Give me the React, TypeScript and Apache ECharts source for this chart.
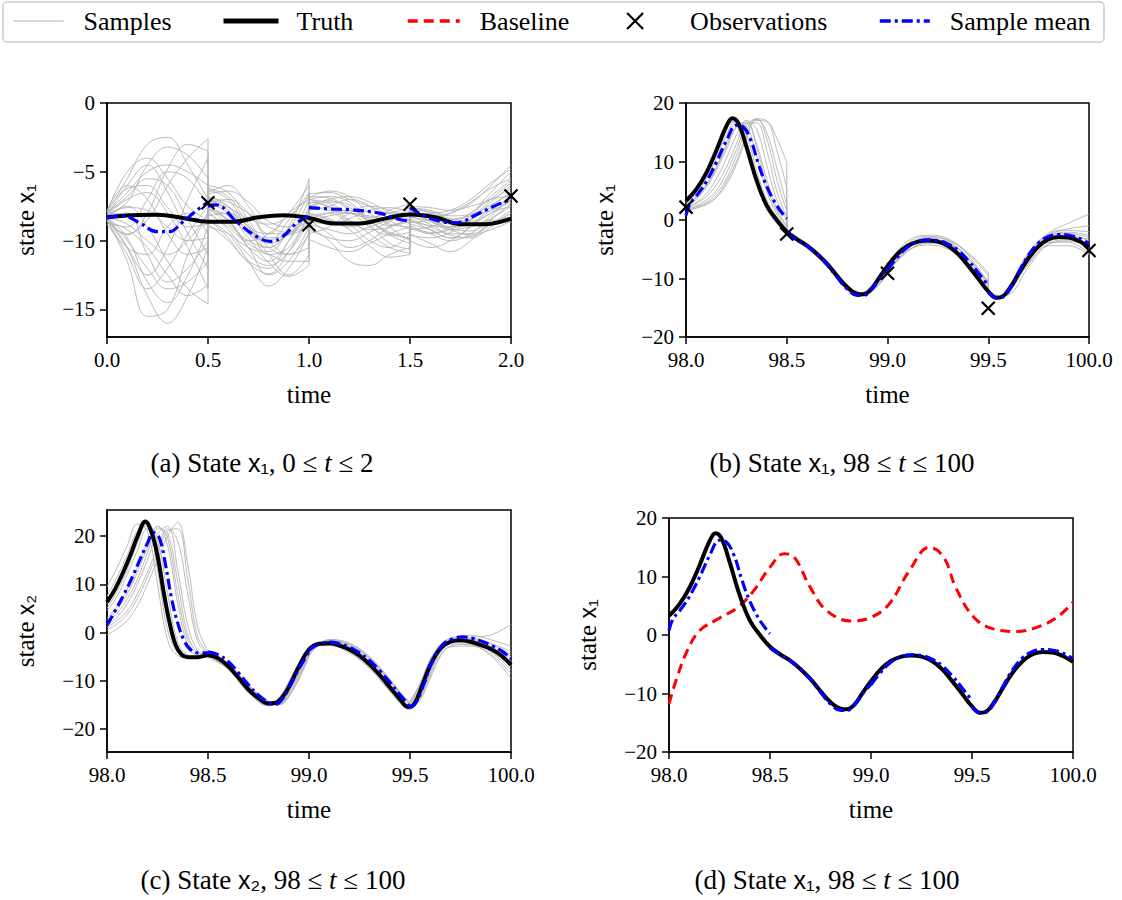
import React, { useEffect, useRef } from "react";
import * as echarts from "echarts";

const FONT = "Liberation Serif";

// ---------- Panel (a): state x1, 0 <= t <= 2 ----------
const truthA_t = [0, 0.125, 0.25, 0.375, 0.5, 0.625, 0.75, 0.875, 1.0, 1.125, 1.25, 1.375, 1.5, 1.625, 1.75, 1.875, 2.0];
const truthA = [-8.3, -8.15, -8.12, -8.35, -8.62, -8.62, -8.3, -8.15, -8.35, -8.75, -8.75, -8.4, -8.1, -8.3, -8.8, -8.8, -8.4];
const meanA_t = [0, 0.08, 0.16, 0.25, 0.31, 0.37, 0.44, 0.5, 0.5, 0.54, 0.64, 0.74, 0.81, 0.87, 0.94, 1.0, 1.0, 1.1, 1.2, 1.35, 1.42, 1.5, 1.5, 1.57, 1.67, 1.73, 1.83, 1.93, 2.0];
const meanA = [-8.35, -8.2, -8.7, -9.35, -9.35, -8.7, -7.85, -7.2, -7.5, -7.4, -8.6, -9.7, -10.05, -9.7, -8.7, -8.2, -7.6, -7.7, -7.75, -8.0, -8.35, -8.6, -7.6, -8.2, -8.65, -8.7, -8.1, -7.4, -7.0];
const obsA_t = [0.5, 1.0, 1.5, 2.0];
const obsA = [-7.25, -8.85, -7.35, -6.75];
const sampGridA = [0, 0.1, 0.2, 0.3, 0.4, 0.5];
const sampSegA = [0, 0.5, 1.0, 1.5];
const samplesA = [
  [-8.0, -5.5, -3.0, -2.5, -4.5, -7.0, -7.0, -7.5, -9.0, -11.0, -10.5, -8.0, -7.0, -6.8, -7.2, -8.5, -9.5, -9.8, -7.6, -8.0, -8.5, -8.0, -6.5, -5.0],
  [-8.5, -11.5, -15.5, -15.0, -11.0, -8.0, -7.8, -8.5, -10.5, -12.5, -11.5, -9.0, -8.5, -9.5, -10.5, -10.0, -9.0, -8.5, -8.5, -9.2, -9.8, -9.0, -7.5, -6.5],
  [-8.2, -6.0, -4.5, -6.5, -9.5, -12.0, -6.5, -6.0, -7.5, -9.5, -9.5, -7.5, -6.6, -6.5, -7.0, -7.5, -8.0, -8.0, -7.8, -8.2, -8.0, -7.3, -6.0, -4.5],
  [-8.4, -10.5, -12.5, -10.5, -7.0, -4.0, -8.5, -9.5, -11.5, -13.3, -12.0, -9.5, -9.0, -10.0, -11.5, -11.8, -11.0, -10.5, -9.5, -10.2, -10.8, -10.0, -8.5, -7.5],
  [-8.1, -7.0, -6.5, -8.0, -10.5, -13.5, -7.2, -8.0, -9.5, -10.0, -8.5, -6.5, -7.5, -7.0, -6.8, -7.2, -8.0, -8.8, -8.0, -8.5, -9.0, -8.8, -8.0, -7.0],
  [-8.6, -9.5, -8.5, -6.0, -4.0, -2.6, -6.0, -6.5, -8.5, -10.5, -11.0, -10.5, -8.0, -8.5, -9.0, -8.5, -7.8, -7.3, -7.5, -7.6, -7.8, -7.5, -7.0, -6.2],
  [-8.3, -9.8, -13.0, -14.5, -12.5, -9.0, -8.0, -9.0, -10.0, -9.5, -8.0, -6.0, -7.2, -7.5, -8.5, -9.5, -10.5, -10.9, -9.0, -9.5, -9.0, -8.0, -7.0, -6.8],
  [-7.9, -5.0, -4.0, -5.5, -7.5, -8.5, -7.5, -8.5, -10.5, -11.5, -10.0, -7.0, -9.5, -9.0, -8.0, -7.5, -7.8, -8.5, -8.2, -8.8, -9.5, -9.5, -8.8, -8.0],
  [-8.8, -10.5, -11.0, -9.0, -8.0, -9.5, -9.0, -9.5, -10.5, -11.0, -11.5, -11.5, -7.8, -7.5, -7.0, -7.5, -9.0, -10.0, -10.0, -10.5, -10.0, -9.0, -8.0, -7.5],
  [-8.2, -7.5, -9.0, -11.5, -13.5, -14.6, -7.3, -7.0, -8.0, -10.0, -11.0, -9.5, -8.2, -8.0, -8.8, -10.0, -10.5, -9.5, -8.7, -8.5, -8.0, -7.2, -6.2, -5.5],
  [-8.0, -6.5, -5.0, -4.5, -5.0, -6.0, -6.8, -7.5, -9.5, -10.5, -9.0, -5.5, -6.9, -6.4, -6.8, -8.0, -8.8, -9.0, -7.9, -8.6, -9.2, -9.0, -8.5, -8.7],
  [-8.5, -11.0, -13.5, -12.0, -9.5, -7.5, -8.2, -8.0, -9.0, -11.0, -12.5, -11.0, -8.8, -9.2, -9.5, -9.0, -8.5, -8.2, -9.2, -9.0, -8.5, -8.2, -7.8, -7.2],
  [-8.3, -8.8, -10.0, -11.0, -10.0, -8.0, -7.6, -8.8, -10.0, -10.5, -9.5, -8.5, -7.4, -7.8, -8.0, -8.2, -8.6, -9.2, -8.0, -8.3, -8.8, -8.5, -7.2, -6.0],
  [-7.8, -6.0, -7.0, -9.5, -11.0, -10.5, -6.3, -7.0, -9.0, -9.5, -8.0, -7.0, -9.9, -10.5, -10.8, -10.2, -9.5, -9.0, -8.9, -9.5, -10.0, -9.5, -8.2, -7.0],
  [-8.7, -9.0, -7.0, -5.0, -5.5, -7.5, -8.8, -10.0, -11.5, -12.0, -10.0, -8.0, -7.0, -7.3, -8.0, -8.3, -8.0, -7.6, -7.7, -7.9, -8.4, -8.6, -7.8, -6.8],
  [-8.1, -8.0, -11.0, -13.0, -12.0, -10.0, -7.0, -7.8, -9.2, -9.8, -9.6, -9.0, -8.4, -8.0, -7.8, -8.6, -9.6, -10.2, -8.4, -9.0, -9.6, -9.8, -9.0, -8.0],
  [-8.0, -6.8, -5.5, -6.0, -8.5, -11.0, -6.2, -6.8, -8.8, -10.2, -9.5, -7.8, -7.6, -7.2, -7.4, -8.8, -10.2, -10.6, -8.6, -8.9, -9.0, -8.4, -7.0, -5.8],
  [-8.4, -10.0, -12.0, -13.5, -13.0, -11.5, -7.9, -9.2, -11.0, -11.8, -10.8, -8.6, -8.6, -8.8, -8.4, -7.8, -7.6, -7.9, -7.9, -8.4, -9.1, -9.3, -8.4, -7.3],
  [-8.2, -7.2, -4.5, -3.2, -3.8, -5.5, -6.6, -6.4, -7.2, -8.6, -9.0, -8.2, -6.8, -6.9, -7.8, -9.0, -9.6, -9.4, -8.1, -8.0, -7.8, -7.0, -5.8, -4.8],
  [-8.6, -9.2, -10.5, -12.5, -14.0, -13.2, -8.4, -9.8, -11.6, -12.4, -10.8, -8.2, -9.2, -9.8, -10.0, -9.4, -8.6, -8.0, -9.6, -9.8, -9.4, -8.5, -7.6, -7.0],
  [-7.9, -6.2, -6.0, -7.6, -9.0, -8.8, -7.1, -7.6, -8.4, -8.8, -8.2, -6.8, -7.0, -7.6, -8.6, -9.2, -9.0, -8.4, -7.6, -7.8, -8.2, -8.1, -7.4, -6.6],
  [-8.3, -10.5, -14.0, -16.0, -14.0, -10.5, -7.7, -8.2, -9.8, -11.6, -12.6, -11.8, -8.0, -8.4, -9.2, -10.4, -11.2, -11.0, -8.3, -8.6, -9.2, -9.6, -9.2, -8.6],
  [-8.1, -7.6, -7.8, -9.0, -10.0, -9.8, -6.9, -7.2, -8.0, -9.0, -9.4, -8.8, -7.3, -7.1, -7.6, -8.4, -8.9, -8.6, -8.8, -9.2, -9.8, -9.7, -8.8, -7.8],
  [-8.5, -9.6, -8.0, -4.8, -3.0, -3.5, -7.4, -8.6, -10.2, -10.8, -9.2, -6.6, -8.6, -8.2, -8.0, -8.6, -9.4, -9.9, -9.1, -9.4, -9.2, -8.2, -6.8, -5.6],
];

// ---------- Panels (b) and (d): state x1, 98 <= t <= 100 ----------
const truthB_t = [98.0, 98.05, 98.1, 98.15, 98.2, 98.23, 98.26, 98.3, 98.35, 98.4, 98.45, 98.5, 98.55, 98.6, 98.65, 98.7, 98.75, 98.8, 98.85, 98.88, 98.92, 98.96, 99.0, 99.05, 99.1, 99.15, 99.2, 99.25, 99.3, 99.35, 99.4, 99.45, 99.5, 99.54, 99.57, 99.61, 99.65, 99.7, 99.75, 99.8, 99.85, 99.9, 99.95, 100.0];
const truthB = [3.3, 5.2, 8.0, 11.8, 16.0, 17.4, 16.5, 12.5, 6.8, 2.5, 0.0, -2.0, -3.3, -4.4, -5.8, -7.5, -9.6, -11.5, -12.6, -12.7, -11.8, -9.8, -7.9, -5.8, -4.4, -3.7, -3.5, -3.7, -4.4, -5.8, -7.8, -10.0, -12.2, -13.3, -13.1, -11.5, -9.2, -6.5, -4.5, -3.3, -2.9, -3.0, -3.6, -4.6];
const meanB_t = [98.0, 98.02, 98.05, 98.1, 98.15, 98.2, 98.25, 98.28, 98.32, 98.36, 98.4, 98.45, 98.5, 98.5, 98.55, 98.6, 98.65, 98.7, 98.75, 98.8, 98.85, 98.88, 98.92, 98.96, 99.0, 99.0, 99.05, 99.1, 99.15, 99.2, 99.25, 99.3, 99.35, 99.4, 99.45, 99.5, 99.5, 99.54, 99.57, 99.61, 99.65, 99.7, 99.75, 99.8, 99.85, 99.9, 99.95, 100.0];
const meanB = [0.8, 2.8, 4.0, 6.5, 9.8, 13.5, 16.2, 16.0, 13.8, 9.5, 5.8, 2.5, 0.2, -2.2, -3.4, -4.4, -5.8, -7.6, -9.8, -11.8, -12.9, -12.9, -11.9, -10.0, -8.4, -8.5, -6.3, -4.6, -3.7, -3.4, -3.5, -4.1, -5.2, -6.9, -9.0, -11.2, -12.3, -13.3, -13.2, -11.6, -9.0, -6.0, -3.9, -2.8, -2.5, -2.6, -3.1, -4.0];
const obsB_t = [98.0, 98.5, 99.0, 99.5, 100.0];
const obsB = [2.2, -2.4, -9.1, -15.1, -5.2];
const baseD_t = [98.0, 98.04, 98.09, 98.15, 98.24, 98.34, 98.42, 98.5, 98.57, 98.62, 98.7, 98.78, 98.9, 99.0, 99.09, 99.19, 99.29, 99.36, 99.42, 99.51, 99.61, 99.72, 99.82, 99.92, 100.0];
const baseD = [-11.8, -7.2, -2.7, 0.7, 2.7, 4.7, 7.6, 11.6, 13.9, 13.3, 8.1, 4.2, 2.4, 3.0, 5.3, 11.0, 15.0, 13.3, 8.1, 3.0, 1.0, 0.6, 1.3, 3.0, 5.6];
const sampTimesB = [98.0, 98.05, 98.1, 98.15, 98.2, 98.25, 98.3, 98.35, 98.4, 98.45, 98.5, 98.5, 98.6, 98.7, 98.8, 98.86, 98.93, 99.0, 99.0, 99.1, 99.2, 99.3, 99.4, 99.5, 99.5, 99.55, 99.6, 99.7, 99.8, 99.9, 100.0];
const samplesB = [
  [3.0, 5.0, 8.0, 12.0, 16.0, 16.8, 12.5, 6.5, 2.0, -0.5, -2.0, -2.0, -4.2, -7.3, -11.4, -12.6, -11.0, -7.6, -8.0, -4.0, -2.8, -3.5, -6.5, -11.0, -12.3, -13.4, -12.3, -6.0, -2.6, -1.8, -2.0],
  [2.5, 4.0, 6.0, 9.0, 13.0, 16.5, 16.0, 11.0, 5.0, 1.0, -1.5, -2.3, -4.6, -7.8, -11.8, -12.9, -11.6, -8.3, -8.5, -4.8, -3.8, -4.8, -8.2, -12.5, -12.6, -13.2, -11.5, -5.5, -2.2, -0.5, 1.0],
  [2.0, 3.0, 4.5, 7.0, 10.5, 14.5, 17.0, 15.5, 9.5, 3.5, 0.0, -1.8, -4.0, -7.0, -11.0, -12.4, -11.8, -9.0, -8.8, -5.0, -3.4, -3.6, -5.8, -9.5, -11.9, -13.0, -12.8, -8.0, -4.2, -3.6, -4.5],
  [1.8, 2.3, 3.0, 4.5, 7.0, 11.0, 15.5, 17.2, 15.0, 9.0, 2.5, -2.5, -4.8, -8.0, -12.0, -13.0, -11.2, -7.5, -7.5, -4.2, -3.6, -4.6, -7.8, -12.2, -12.8, -13.5, -12.0, -6.8, -3.4, -3.2, -5.0],
  [2.8, 4.5, 7.0, 10.5, 14.5, 17.0, 14.5, 8.5, 3.5, 0.5, -1.8, -2.1, -4.4, -7.6, -11.6, -12.8, -12.0, -9.2, -9.0, -5.4, -4.0, -4.2, -6.5, -10.5, -12.1, -13.2, -12.5, -7.2, -3.8, -3.8, -5.8],
  [1.5, 2.0, 2.6, 3.8, 6.0, 9.5, 14.0, 17.3, 17.0, 14.0, 9.8, -1.9, -4.3, -7.4, -11.2, -12.5, -10.8, -7.2, -7.4, -3.6, -2.6, -3.2, -6.0, -10.8, -12.4, -13.1, -11.8, -5.8, -2.4, -1.5, -1.0],
  [2.2, 3.5, 5.5, 8.5, 12.0, 15.8, 16.5, 13.0, 7.0, 2.0, -1.0, -2.2, -4.5, -7.7, -11.7, -12.8, -11.4, -8.0, -8.2, -4.5, -3.3, -4.0, -7.2, -11.8, -12.5, -13.4, -12.2, -6.6, -3.1, -2.6, -3.6],
  [3.2, 5.3, 8.5, 12.5, 16.3, 17.0, 13.5, 7.5, 2.5, 0.0, -2.0, -2.4, -4.7, -7.9, -11.9, -13.0, -11.9, -8.6, -8.7, -5.2, -4.3, -5.0, -8.0, -12.6, -12.2, -13.3, -12.6, -7.0, -3.3, -2.8, -3.3],
  [1.6, 2.1, 2.8, 4.0, 6.5, 10.0, 14.5, 17.0, 16.8, 12.0, 5.5, -2.0, -4.1, -7.1, -11.1, -12.6, -11.5, -8.4, -8.3, -4.6, -3.0, -3.4, -5.6, -9.0, -12.0, -12.9, -12.2, -7.4, -4.0, -3.4, -4.0],
  [2.4, 3.8, 5.8, 8.8, 12.5, 16.0, 16.8, 12.5, 6.0, 1.5, -1.2, -2.3, -4.5, -7.6, -11.5, -12.7, -11.1, -7.7, -7.8, -4.3, -3.7, -4.7, -8.0, -12.4, -12.7, -13.6, -12.1, -6.2, -2.8, -2.1, -2.6],
  [2.0, 2.8, 4.0, 6.0, 9.0, 13.0, 16.6, 16.6, 12.0, 5.0, 0.5, -2.1, -4.4, -7.5, -11.3, -12.6, -11.7, -8.8, -8.9, -5.3, -3.8, -4.0, -6.8, -11.3, -12.3, -13.1, -12.4, -7.5, -4.4, -4.4, -6.0],
  [1.7, 2.4, 3.4, 5.0, 8.0, 12.0, 16.2, 17.3, 14.0, 7.0, 1.5, -2.2, -4.6, -7.8, -11.8, -12.9, -11.3, -7.9, -8.0, -4.4, -3.5, -4.4, -7.6, -12.0, -12.6, -13.5, -12.0, -6.4, -2.9, -2.3, -3.0],
];

// ---------- Panel (c): state x2, 98 <= t <= 100 ----------
const truthC_t = [98.0, 98.04, 98.08, 98.12, 98.15, 98.19, 98.22, 98.25, 98.28, 98.31, 98.34, 98.37, 98.4, 98.45, 98.5, 98.55, 98.6, 98.65, 98.7, 98.75, 98.8, 98.83, 98.87, 98.91, 98.95, 99.0, 99.05, 99.1, 99.15, 99.2, 99.25, 99.3, 99.35, 99.4, 99.45, 99.49, 99.52, 99.56, 99.6, 99.65, 99.7, 99.75, 99.8, 99.85, 99.9, 99.95, 100.0];
const truthC = [6.3, 9.0, 12.5, 16.5, 19.8, 23.0, 20.8, 15.9, 8.5, 2.0, -2.6, -4.6, -5.1, -5.1, -4.7, -5.3, -7.0, -9.3, -11.8, -13.6, -14.7, -14.6, -13.3, -10.5, -7.0, -3.5, -2.3, -2.2, -2.7, -3.5, -4.8, -6.6, -8.8, -11.3, -13.8, -15.4, -14.9, -11.0, -6.8, -3.3, -1.9, -1.6, -1.9, -2.6, -3.4, -4.7, -6.7];
const meanC_t = [98.0, 98.04, 98.08, 98.12, 98.16, 98.2, 98.23, 98.26, 98.29, 98.32, 98.35, 98.38, 98.41, 98.45, 98.5, 98.5, 98.55, 98.6, 98.65, 98.7, 98.75, 98.8, 98.83, 98.86, 98.9, 98.95, 99.0, 99.0, 99.05, 99.1, 99.15, 99.2, 99.25, 99.3, 99.35, 99.4, 99.45, 99.5, 99.5, 99.53, 99.57, 99.61, 99.66, 99.71, 99.76, 99.81, 99.86, 99.91, 99.96, 100.0];
const meanC = [1.5, 4.5, 7.6, 11.0, 14.8, 18.5, 20.7, 19.5, 14.0, 7.0, 2.0, -1.5, -3.4, -4.2, -4.2, -4.0, -4.6, -6.0, -8.3, -10.8, -13.0, -14.5, -14.9, -14.2, -11.5, -7.5, -4.0, -3.6, -2.4, -2.0, -2.3, -3.0, -4.2, -5.8, -7.9, -10.3, -12.9, -15.3, -15.6, -14.5, -10.5, -6.0, -2.6, -1.3, -0.9, -1.2, -1.9, -2.8, -4.0, -5.5];
const sampTimesC = [98.0, 98.05, 98.1, 98.15, 98.2, 98.25, 98.3, 98.35, 98.4, 98.45, 98.5, 98.5, 98.6, 98.7, 98.8, 98.85, 98.92, 99.0, 99.0, 99.1, 99.2, 99.3, 99.4, 99.47, 99.5, 99.5, 99.55, 99.6, 99.65, 99.7, 99.8, 99.9, 100.0];
const samplesC = [
  [6.0, 10.0, 15.0, 20.5, 22.5, 16.0, 3.0, -3.5, -5.0, -5.0, -4.6, -4.6, -6.8, -11.5, -14.6, -14.5, -10.5, -3.8, -3.6, -2.0, -3.0, -6.0, -10.8, -14.5, -15.3, -15.3, -12.5, -7.5, -3.6, -1.8, -1.4, -2.5, -4.5],
  [3.0, 5.5, 9.0, 13.5, 18.5, 22.0, 18.0, 6.0, -2.5, -4.8, -4.8, -4.8, -7.3, -12.2, -15.0, -14.0, -9.2, -3.2, -3.2, -2.4, -3.8, -7.0, -11.8, -15.0, -15.8, -15.8, -13.5, -8.5, -4.2, -2.2, -1.0, -0.5, 1.7],
  [1.0, 2.5, 4.5, 8.0, 12.5, 17.5, 21.5, 19.0, 8.0, -2.0, -4.5, -4.5, -6.5, -11.0, -14.3, -14.8, -11.5, -4.5, -4.0, -1.6, -2.5, -5.4, -10.0, -13.6, -14.6, -14.6, -11.0, -6.0, -2.8, -1.5, -1.8, -3.4, -6.5],
  [9.5, 13.5, 18.0, 22.5, 21.0, 10.0, -1.5, -4.8, -5.2, -5.0, -4.5, -5.0, -7.5, -12.4, -15.2, -13.8, -8.8, -3.0, -3.0, -2.6, -4.0, -7.2, -12.0, -15.3, -15.9, -15.9, -13.8, -9.0, -4.8, -2.8, -2.4, -4.0, -7.8],
  [2.0, 4.0, 7.0, 11.0, 16.5, 21.5, 20.5, 10.5, -0.5, -4.2, -4.7, -4.7, -6.9, -11.6, -14.8, -14.6, -11.0, -4.2, -4.2, -1.8, -2.6, -5.6, -10.3, -13.9, -14.9, -14.9, -11.5, -6.4, -3.0, -1.7, -1.9, -3.8, -7.0],
  [-0.5, 0.8, 2.5, 5.5, 10.0, 15.0, 20.0, 22.8, 14.0, 1.0, -3.8, -4.4, -6.3, -10.8, -14.2, -15.0, -12.0, -5.0, -4.8, -1.5, -2.2, -5.0, -9.6, -13.2, -14.3, -14.3, -10.5, -5.5, -2.5, -1.2, -0.6, -1.5, -2.8],
  [4.5, 7.5, 12.0, 17.0, 21.5, 19.0, 8.0, -2.0, -4.6, -5.0, -4.6, -4.9, -7.2, -12.0, -15.0, -14.2, -9.6, -3.4, -3.4, -2.3, -3.6, -6.8, -11.5, -14.8, -15.6, -15.6, -13.0, -8.0, -4.0, -2.4, -2.6, -4.8, -9.5],
  [1.5, 3.2, 6.0, 10.0, 15.0, 20.5, 22.0, 13.0, 1.5, -3.8, -4.8, -4.6, -6.7, -11.3, -14.5, -14.7, -10.8, -4.0, -3.9, -1.9, -2.9, -6.0, -10.8, -14.4, -15.2, -15.2, -12.2, -7.2, -3.5, -1.9, -1.7, -3.0, -5.5],
  [5.0, 8.5, 13.0, 18.5, 22.8, 18.0, 5.0, -3.0, -5.0, -5.0, -4.5, -5.1, -7.6, -12.5, -15.1, -13.6, -8.6, -2.8, -2.9, -2.7, -4.2, -7.5, -12.2, -15.5, -16.0, -16.0, -14.0, -9.5, -5.0, -3.0, -2.8, -4.5, -8.5],
  [0.5, 1.8, 3.8, 7.0, 11.5, 16.5, 21.0, 21.5, 11.0, -1.0, -4.2, -4.5, -6.6, -11.2, -14.4, -14.9, -11.8, -4.8, -4.6, -1.4, -2.3, -5.2, -9.8, -13.4, -14.4, -14.4, -10.8, -5.8, -2.6, -1.3, -1.1, -2.2, -4.0],
  [2.5, 4.8, 8.0, 12.5, 17.5, 22.0, 19.5, 8.0, -1.5, -4.6, -4.9, -4.8, -7.1, -11.9, -14.9, -14.4, -10.0, -3.6, -3.6, -2.1, -3.2, -6.3, -11.0, -14.6, -15.4, -15.4, -12.6, -7.6, -3.8, -2.1, -2.2, -3.6, -6.0],
  [7.5, 11.5, 16.0, 21.0, 22.0, 13.0, 0.5, -4.2, -5.2, -5.0, -4.6, -4.7, -7.0, -11.7, -14.7, -14.3, -10.2, -3.7, -3.8, -2.0, -3.1, -6.2, -10.9, -14.5, -15.3, -15.3, -12.3, -7.3, -3.6, -2.0, -1.6, -2.9, -5.0],
];

// ---------- helpers ----------
const pairs = (ts: number[], ys: number[]) => ts.map((t, i) => [t, ys[i]]);
// split a trajectory at the observation times (repeated t values)
function splitAtJumps(d: number[][]) {
  const segs: number[][][] = [[]];
  d.forEach((p, i) => {
    if (i > 0 && p[0] === d[i - 1][0]) segs.push([]);
    segs[segs.length - 1].push(p);
  });
  return segs;
}
// vertical jump connectors, broken by nulls
function jumpLinks(d: number[][]) {
  const out: (number | null)[][] = [];
  d.forEach((p, i) => {
    if (i > 0 && p[0] === d[i - 1][0]) out.push(d[i - 1], p, [p[0], null]);
  });
  return out;
}
const fmtNum = (v: number) => (v < 0 ? "\u2212" + Math.abs(v) : String(v));
const X_PATH = "path://M0,0L10,10M0,10L10,0";

const GRIDS = [
  { left: 107, top: 103, width: 404, height: 234 },
  { left: 686, top: 103, width: 403, height: 234 },
  { left: 107, top: 510, width: 404, height: 242 },
  { left: 669, top: 518, width: 404, height: 234 },
];

function xAxis(g: number, min: number, max: number) {
  return {
    type: "value",
    gridIndex: g,
    min,
    max,
    interval: 0.5,
    name: "time",
    nameLocation: "middle",
    nameGap: 45,
    nameTextStyle: { fontFamily: FONT, fontSize: 25, color: "#000" },
    axisLine: { show: true, onZero: false, lineStyle: { color: "#000", width: 1.5 } },
    axisTick: { show: true, inside: false, length: 7, lineStyle: { color: "#000", width: 1.5 } },
    axisLabel: { fontFamily: FONT, fontSize: 21, color: "#000", margin: 12, formatter: (v: number) => v.toFixed(1) },
    splitLine: { show: false },
  };
}

function yAxis(g: number, min: number, max: number, ticks: number[], sub: string) {
  return {
    type: "value",
    gridIndex: g,
    min,
    max,
    name: "state {s|x" + sub + "}",
    nameLocation: "middle",
    nameGap: 69,
    nameTextStyle: {
      fontFamily: FONT,
      fontSize: 25,
      color: "#000",
      rich: { s: { fontFamily: "Liberation Sans", fontSize: 23, color: "#000" } },
    },
    axisLine: { show: true, onZero: false, lineStyle: { color: "#000", width: 1.5 } },
    axisTick: { show: true, inside: false, length: 7, customValues: ticks, lineStyle: { color: "#000", width: 1.5 } },
    axisLabel: { fontFamily: FONT, fontSize: 21, color: "#000", margin: 12, customValues: ticks, formatter: fmtNum },
    splitLine: { show: false },
  };
}

const GRAY = "#b3b3b3";
const lineSeries = (name: string, g: number, data: any[], color: string, width: number, type: any, z: number, smooth: number | boolean = 0.4) => ({
  type: "line",
  name,
  xAxisIndex: g,
  yAxisIndex: g,
  data,
  smooth,
  symbol: "none",
  silent: true,
  connectNulls: false,
  itemStyle: { color },
  lineStyle: { color, width, type },
  z,
});

// one series per continuous piece of each sample, plus the vertical jumps
function sampleSeries(g: number, trajectories: number[][][]) {
  const out: any[] = [];
  const links: any[] = [];
  trajectories.forEach((d) => {
    splitAtJumps(d).forEach((seg) => out.push(lineSeries("Samples", g, seg, GRAY, 0.9, "solid", 1)));
    links.push(...jumpLinks(d));
  });
  out.push(lineSeries("Samples", g, links, GRAY, 0.9, "solid", 1, false));
  return out;
}
const meanSeries = (g: number, d: number[][]) =>
  splitAtJumps(d).map((seg) => lineSeries("Sample mean", g, seg, "#0000ff", 3.2, [11, 4, 3, 4], 4));
const obsScatter = (g: number, data: number[][]) => ({
  type: "scatter",
  name: "Observations",
  xAxisIndex: g,
  yAxisIndex: g,
  data,
  symbol: X_PATH,
  symbolSize: 13,
  silent: true,
  clip: false,
  itemStyle: { color: "rgba(0,0,0,0)", borderColor: "#000", borderWidth: 2.2, opacity: 1 },
  z: 5,
});

const trajA = samplesA.map((vals) => {
  const d: number[][] = [];
  sampSegA.forEach((s, k) => sampGridA.forEach((g, i) => d.push([s + g, vals[k * 6 + i]])));
  return d;
});

const legendBase = (name: string, left: number, itemWidth: number, textPad: number, itemHeight: number) => ({
  show: true,
  data: [{ name }],
  left,
  top: 8,
  padding: 0,
  itemWidth,
  itemHeight,
  selectedMode: false,
  textStyle: { fontFamily: FONT, fontSize: 26, color: "#000", padding: [0, 0, 0, textPad] },
  z: 10,
});
const legendLine = (name: string, left: number, itemWidth: number, textPad: number, width: number) => ({
  ...legendBase(name, left, itemWidth, textPad, 14),
  itemStyle: { opacity: 0 },
  lineStyle: { width },
});

const caption = (x: number, y: number, label: string, sub: string, range: string) => ({
  type: "text",
  x,
  y,
  style: {
    text: `(${label}) State {s|x${sub}}, ${range}`,
    fontFamily: FONT,
    fontSize: 27,
    fill: "#000",
    align: "center",
    verticalAlign: "middle",
    rich: {
      s: { fontFamily: "Liberation Sans", fontSize: 25, fill: "#000" },
      i: { fontStyle: "italic", fontFamily: FONT, fontSize: 27, fill: "#000" },
    },
  },
});

export default function App() {
  const ref = useRef<HTMLDivElement>(null);
  useEffect(() => {
    if (!ref.current) return;
    const chart = echarts.init(ref.current, null, { renderer: "svg" });
    const option = {
      animation: false,
      backgroundColor: "#fff",
      textStyle: { fontFamily: FONT },
      grid: GRIDS.map((g) => ({ ...g, show: true, borderColor: "#000", borderWidth: 1.5, backgroundColor: "transparent", containLabel: false })),
      xAxis: [xAxis(0, 0, 2), xAxis(1, 98, 100), xAxis(2, 98, 100), xAxis(3, 98, 100)],
      yAxis: [
        yAxis(0, -17, 0, [-15, -10, -5, 0], "\u2081"),
        yAxis(1, -20, 20, [-20, -10, 0, 10, 20], "\u2081"),
        yAxis(2, -24.75, 25.4, [-20, -10, 0, 10, 20], "\u2082"),
        yAxis(3, -20, 20, [-20, -10, 0, 10, 20], "\u2081"),
      ],
      legend: [
        legendLine("Samples", 13, 50, 15, 1.2),
        legendLine("Truth", 221, 55, 13, 5),
        legendLine("Baseline", 406, 52, 15, 3.5),
        {
          ...legendBase("Observations", 626, 16, 42, 16),
          itemStyle: { color: "rgba(0,0,0,0)", borderColor: "#000", borderWidth: 2.2 },
        },
        legendLine("Sample mean", 878, 50, 15, 3.5),
      ],
      graphic: [
        { type: "rect", z: 0, shape: { x: 3, y: 2, width: 1101, height: 40, r: 4 }, style: { fill: "#fff", stroke: "#cccccc", lineWidth: 1.5 } },
        caption(262, 463, "a", "\u2081", "0 \u2264 {i|t} \u2264 2"),
        caption(842, 463, "b", "\u2081", "98 \u2264 {i|t} \u2264 100"),
        caption(273, 880, "c", "\u2082", "98 \u2264 {i|t} \u2264 100"),
        caption(827, 880, "d", "\u2081", "98 \u2264 {i|t} \u2264 100"),
      ],
      series: [
        ...sampleSeries(0, trajA),
        lineSeries("Truth", 0, pairs(truthA_t, truthA), "#000", 4, "solid", 3),
        ...meanSeries(0, pairs(meanA_t, meanA)),
        obsScatter(0, pairs(obsA_t, obsA)),
        ...sampleSeries(1, samplesB.map((vals) => pairs(sampTimesB, vals))),
        lineSeries("Truth", 1, pairs(truthB_t, truthB), "#000", 4, "solid", 3),
        ...meanSeries(1, pairs(meanB_t, meanB)),
        obsScatter(1, pairs(obsB_t, obsB)),
        ...sampleSeries(2, samplesC.map((vals) => pairs(sampTimesC, vals))),
        lineSeries("Truth", 2, pairs(truthC_t, truthC), "#000", 4, "solid", 3),
        ...meanSeries(2, pairs(meanC_t, meanC)),
        lineSeries("Baseline", 3, pairs(baseD_t, baseD), "#ff0000", 3, [10, 6], 3),
        lineSeries("Truth", 3, pairs(truthB_t, truthB), "#000", 4, "solid", 3),
        ...meanSeries(3, pairs(meanB_t, meanB)),
      ],
    };
    chart.setOption(option as any);
    return () => chart.dispose();
  }, []);
  return (
    <div
      ref={ref}
      style={{ position: "fixed", left: 0, top: 0, width: 1122, height: 900, background: "#fff" }}
    />
  );
}
